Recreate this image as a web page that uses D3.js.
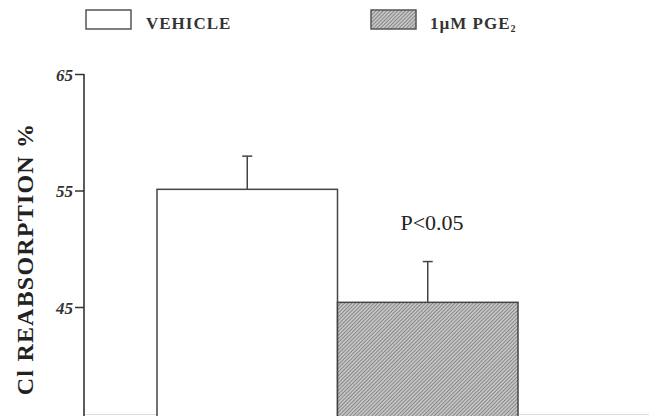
<!DOCTYPE html>
<html><head><meta charset="utf-8">
<script src="https://cdn.jsdelivr.net/npm/d3@7"></script>
<style>body{margin:0;background:#fff}svg{display:block}</style>
</head><body>
<svg id="c" width="649" height="416"></svg>
<script>
const categories = ["VEHICLE", "1µM PGE2"];
const means = [55.1, 45.4];
const errors = [2.85, 3.5];
const yTicks = [45, 55, 65];
const annotation = "P<0.05";

const svg = d3.select("#c");
const serif = "'Liberation Serif','DejaVu Serif',serif";
const y = d3.scaleLinear().domain([35, 65]).range([423.5, 74]);
const x = d3.scaleBand().domain(categories).range([157, 518]).padding(0);

const defs = svg.append("defs");
const pat = defs.append("pattern").attr("id","hatch").attr("patternUnits","userSpaceOnUse")
  .attr("width",2.6).attr("height",2.6).attr("patternTransform","rotate(45)");
pat.append("rect").attr("width",2.6).attr("height",2.6).attr("fill","#c4c4c4");
pat.append("line").attr("x1",0).attr("y1",0).attr("x2",0).attr("y2",2.6).attr("stroke","#5e5e5e").attr("stroke-width",1.1);

const fills = ["#fff","url(#hatch)"];

// baseline
svg.append("line").attr("x1",84).attr("x2",649).attr("y1",414.5).attr("y2",414.5)
  .attr("stroke","#ddd").attr("stroke-width",1);

// bars
svg.selectAll("rect.bar").data(categories).enter().append("rect").attr("class","bar")
  .attr("x", d => x(d)).attr("width", x.bandwidth())
  .attr("y", (d,i) => y(means[i])).attr("height", (d,i) => y(35) - y(means[i]))
  .attr("fill", (d,i) => fills[i]).attr("stroke","#444").attr("stroke-width",1.5);

// error bars
categories.forEach((c,i) => {
  const cx = x(c) + x.bandwidth()/2;
  svg.append("line").attr("x1",cx).attr("x2",cx).attr("y1",y(means[i])).attr("y2",y(means[i]+errors[i]))
    .attr("stroke","#444").attr("stroke-width",1.5);
  svg.append("line").attr("x1",cx-5).attr("x2",cx+5).attr("y1",y(means[i]+errors[i])).attr("y2",y(means[i]+errors[i]))
    .attr("stroke","#444").attr("stroke-width",1.5);
});

// y axis
const ax = svg.append("g").attr("transform","translate(84,0)")
  .call(d3.axisLeft(y).tickValues(yTicks).tickSize(9).tickSizeOuter(0).tickFormat(d3.format("d")));
ax.attr("font-size", null);
ax.select(".domain").attr("stroke","#333").attr("stroke-width",1.6).attr("d","M0,74V416");
ax.selectAll(".tick line").attr("stroke","#333").attr("stroke-width",1.5);
ax.selectAll(".tick text").attr("x",-11).attr("dy","0.36em")
  .attr("font-family",serif).attr("font-size",17).attr("font-weight","bold").attr("font-style","italic")
  .attr("fill","#333");

// y label
svg.append("text").attr("transform","translate(33,259) rotate(-90)").attr("text-anchor","middle")
  .attr("font-family",serif).attr("font-size",24).attr("font-weight","bold").attr("fill","#222")
  .attr("letter-spacing",1.2)
  .text("Cl  REABSORPTION %");

// annotation
svg.append("text").attr("x",432).attr("y",230).attr("text-anchor","middle")
  .attr("font-family",serif).attr("font-size",22).attr("fill","#222").text(annotation);

// legend
const legX = [86, 371], legTX = [146, 430];
categories.forEach((c,i) => {
  svg.append("rect").attr("x",legX[i]).attr("y",10).attr("width",45).attr("height",19)
    .attr("fill",fills[i]).attr("stroke","#555").attr("stroke-width",1.5);
  const t = svg.append("text").attr("x",legTX[i]).attr("y",29)
    .attr("font-family",serif).attr("font-size",17).attr("font-weight","bold")
    .attr("letter-spacing",1).attr("fill","#333");
  if (c.endsWith("2")) {
    t.text(c.slice(0,-1));
    t.append("tspan").attr("dy",3).attr("font-size",10).text("2");
  } else t.text(c);
});
</script>
</body></html>
